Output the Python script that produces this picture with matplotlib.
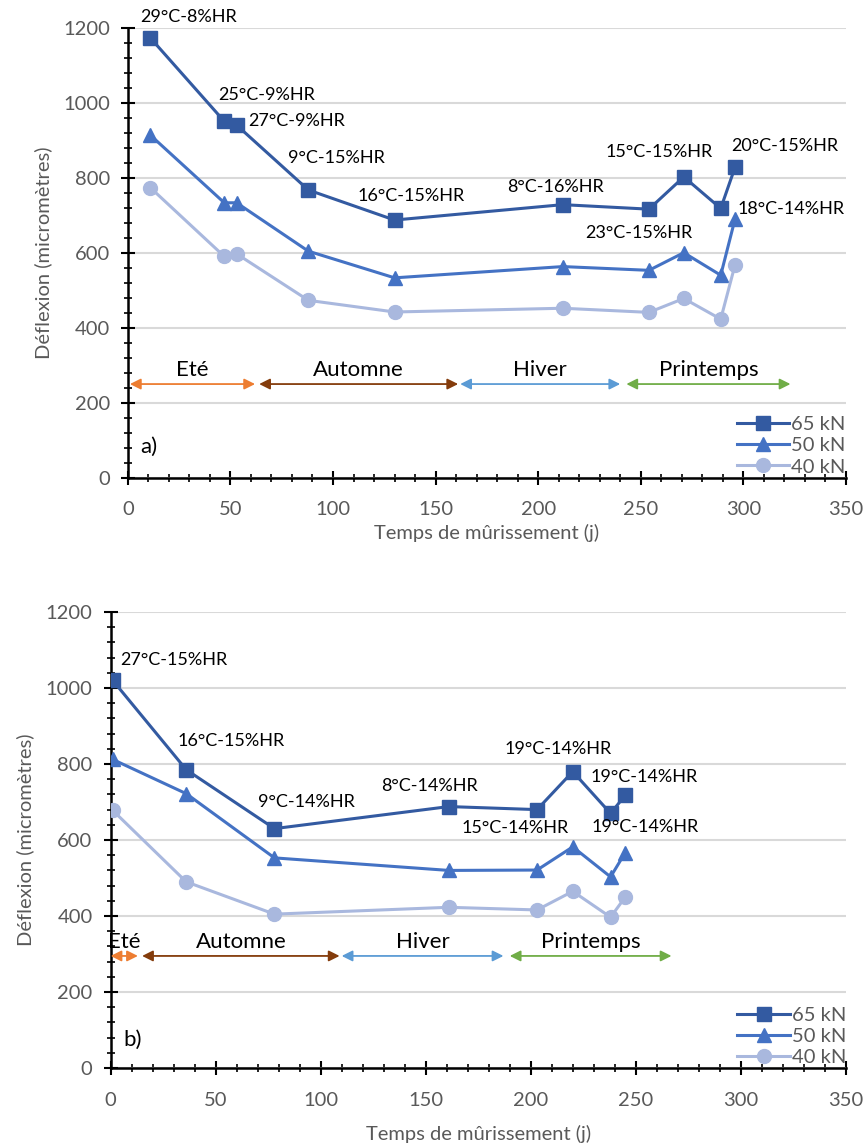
import matplotlib.pyplot as plt
from matplotlib.ticker import MultipleLocator

plt.rcParams['font.family'] = ['Lato', 'DejaVu Sans']

# panel a)
jours_a = [11, 47, 53, 88, 130, 212, 254, 271, 289, 296]
d65_a = [1172, 950, 940, 767, 687, 728, 716, 802, 718, 828]
d50_a = [913, 733, 733, 604, 533, 563, 553, 600, 540, 690]
d40_a = [773, 590, 597, 473, 442, 452, 441, 478, 423, 568]
notes_a = ["29°C-8%HR", "25°C-9%HR", "27°C-9%HR", "9°C-15%HR", "16°C-15%HR",
           "8°C-16%HR", "15°C-15%HR", "20°C-15%HR", "18°C-14%HR", "23°C-15%HR"]
notes_a_pos = [(6, 1227), (44, 1021), (58.5, 952), (78, 851), (112, 752),
               (185, 776), (233, 867), (294, 885), (297, 717), (223, 653)]
saisons_a = [(1, 62), (64, 161), (162, 240), (243, 323)]

# panel b)
jours_b = [1, 36, 78, 161, 203, 220, 238, 245]
d65_b = [1020, 785, 630, 688, 680, 780, 670, 718]
d50_b = [812, 722, 553, 520, 521, 582, 503, 567]
d40_b = [678, 490, 405, 423, 416, 465, 397, 450]
notes_b = ["27°C-15%HR", "16°C-15%HR", "9°C-14%HR", "8°C-14%HR", "19°C-14%HR",
           "19°C-14%HR", "15°C-14%HR", "19°C-14%HR"]
notes_b_pos = [(4.8, 1074), (32, 860), (70, 700), (128.6, 742), (187.6, 839),
               (228.6, 766), (167, 632), (229, 634)]
saisons_b = [(0, 13), (15, 109), (110, 187), (190, 267)]

noms_saisons = ["Eté", "Automne", "Hiver", "Printemps"]
couleurs_saisons = ["#ED7D31", "#843C0C", "#5B9BD5", "#70AD47"]
charges = ["65 kN", "50 kN", "40 kN"]
styles = [("#335AA1", "s"), ("#4472C4", "^"), ("#A9B8DE", "o")]

fig = plt.figure(figsize=(8.64, 11.46), dpi=100)
ax_a = fig.add_axes([0.148, 0.583, 0.831, 0.393])
ax_b = fig.add_axes([0.128, 0.068, 0.851, 0.398])


def panneau(ax, jours, series, notes, notes_pos, saisons, y_fleche, lettre, lettre_pos, xpad):
    for (c, m), vals, lab in zip(styles, series, charges):
        ax.plot(jours, vals, color=c, marker=m, lw=2.2, ms=10, label=lab, zorder=3)
    for txt, (x, y) in zip(notes, notes_pos):
        ax.text(x, y, txt, fontsize=13, ha='left', va='center', color='black')
    for (x0, x1), nom, c in zip(saisons, noms_saisons, couleurs_saisons):
        ax.annotate('', xy=(x0, y_fleche), xytext=(x1, y_fleche),
                    arrowprops=dict(arrowstyle='<|-|>', color=c, lw=1.3,
                                    mutation_scale=16, shrinkA=0, shrinkB=0))
        ax.text((x0 + x1) / 2, y_fleche + 10, nom, fontsize=16, ha='center',
                va='bottom', color='black')
    ax.text(lettre_pos[0], lettre_pos[1], lettre, fontsize=16, ha='left', va='center')
    ax.set_xlim(0, 350)
    ax.set_ylim(0, 1200)
    ax.xaxis.set_major_locator(MultipleLocator(50))
    ax.xaxis.set_minor_locator(MultipleLocator(10))
    ax.yaxis.set_major_locator(MultipleLocator(200))
    ax.yaxis.set_minor_locator(MultipleLocator(40))
    ax.tick_params(which='major', direction='inout', length=10, width=1.5,
                   labelsize=14.5, labelcolor='#595959', pad=8)
    ax.tick_params(axis='x', which='major', pad=12)
    ax.tick_params(which='minor', direction='inout', length=6, width=1.2)
    ax.grid(axis='y', which='major', color='#D9D9D9', lw=1.5, zorder=0)
    ax.set_axisbelow(True)
    for s in ['top', 'right']:
        ax.spines[s].set_visible(False)
    for s in ['left', 'bottom']:
        ax.spines[s].set_linewidth(1.8)
    ax.set_xlabel("Temps de mûrissement (j)", fontsize=14.5, color='#595959', labelpad=xpad)
    ax.set_ylabel("Déflexion (micromètres)", fontsize=14.5, color='#595959', labelpad=8)
    ax.legend(loc='lower right', bbox_to_anchor=(1.025, -0.035), frameon=False,
              fontsize=14.5, labelcolor='#595959', handlelength=2.6,
              handletextpad=0.1, labelspacing=0.2)


panneau(ax_a, jours_a, [d65_a, d50_a, d40_a], notes_a, notes_a_pos, saisons_a,
        250, "a)", (6, 83), 4)
panneau(ax_b, jours_b, [d65_b, d50_b, d40_b], notes_b, notes_b_pos, saisons_b,
        295, "b)", (6, 74), 12)

fig.savefig("out.png", dpi=100)
